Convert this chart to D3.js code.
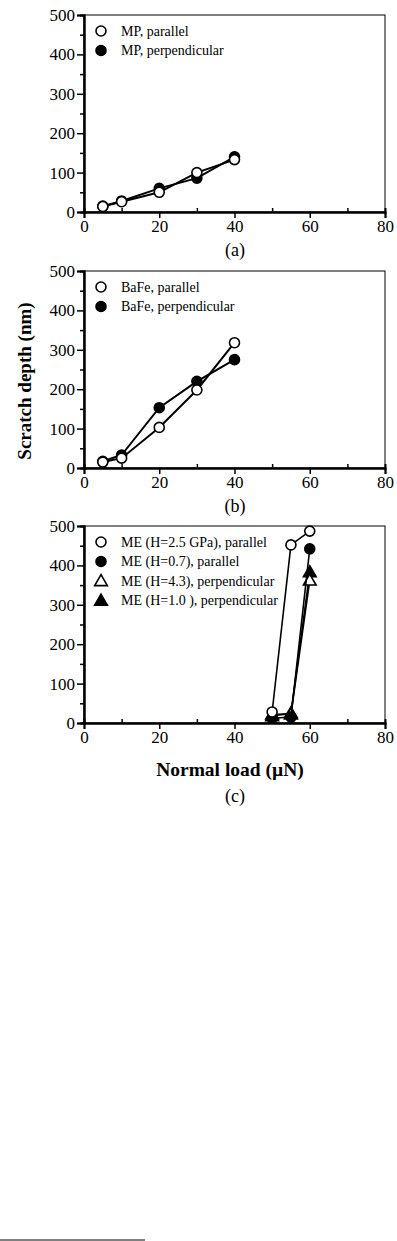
<!DOCTYPE html>
<html>
<head>
<meta charset="utf-8">
<script src="https://cdn.jsdelivr.net/npm/d3@7"></script>
<style>
  body { margin: 0; background: #fff; }
  text { font-family: "Liberation Serif", "Times New Roman", serif; fill: #000; }
</style>
</head>
<body>
<div id="canvas"></div>
<script>
"use strict"

/* Data */
let xTicks = [0, 20, 40, 60, 80];
let xMinorTicks = [10, 30, 50, 70];
let yTicks = [0, 100, 200, 300, 400, 500];
let yMinorTicks = [50, 150, 250, 350, 450];

let mpLoads = [5, 10, 20, 30, 40];
let mpParallel = [14, 26, 50, 100, 133];
let mpPerpendicular = [15, 28, 60, 86, 140];

let bafeLoads = [5, 10, 20, 30, 40];
let bafeParallel = [15, 25, 103, 198, 318];
let bafePerpendicular = [17, 33, 153, 220, 275];

let meLoads = [50, 55, 60];
let meH25Parallel = [28, 452, 487];
let meH07Parallel = [12, 15, 442];
let meH43Perpendicular = [22, 22, 362];
let meH10Perpendicular = [18, 25, 383];

/* Drawing configuration */
let svgWidth = 397;
let svgHeight = 1241;
let plotLeft = 84;
let plotRight = 385;
let plotHeight = 197;
let panelTops = [15, 271, 526];

let svg = d3.select("#canvas")
    .append("svg")
    .attr("width", svgWidth)
    .attr("height", svgHeight);

svg.append("rect")
    .attr("width", svgWidth)
    .attr("height", svgHeight)
    .attr("fill", "#fff");

let xScale = d3.scaleLinear()
    .domain([0, 80])
    .range([plotLeft, plotRight]);

let panels = [
    {
        label: "(a)",
        series: [
            { name: "MP, perpendicular", x: mpLoads, y: mpPerpendicular, shape: "circle", fill: "#000", legendRow: 1 },
            { name: "MP, parallel", x: mpLoads, y: mpParallel, shape: "circle", fill: "#fff", legendRow: 0 }
        ],
        lineWidth: 2
    },
    {
        label: "(b)",
        series: [
            { name: "BaFe, perpendicular", x: bafeLoads, y: bafePerpendicular, shape: "circle", fill: "#000", legendRow: 1 },
            { name: "BaFe, parallel", x: bafeLoads, y: bafeParallel, shape: "circle", fill: "#fff", legendRow: 0 }
        ],
        lineWidth: 2
    },
    {
        label: "(c)",
        series: [
            { name: "ME (H=1.0 ), perpendicular", x: meLoads, y: meH10Perpendicular, shape: "triangle", fill: "#000", legendRow: 3 },
            { name: "ME (H=4.3), perpendicular", x: meLoads, y: meH43Perpendicular, shape: "triangle", fill: "#fff", legendRow: 2 },
            { name: "ME (H=0.7), parallel", x: meLoads, y: meH07Parallel, shape: "circle", fill: "#000", legendRow: 1 },
            { name: "ME (H=2.5 GPa), parallel", x: meLoads, y: meH25Parallel, shape: "circle", fill: "#fff", legendRow: 0 }
        ],
        lineWidth: 1.6
    }
];

function drawMarker(g, shape, fill, cx, cy) {
    if (shape === "circle") {
        g.append("circle")
            .attr("cx", cx)
            .attr("cy", cy)
            .attr("r", 5)
            .attr("fill", fill)
            .attr("stroke", "#000")
            .attr("stroke-width", 1.6);
    } else {
        g.append("path")
            .attr("d", d3.symbol(d3.symbolTriangle, 70)())
            .attr("transform", "translate(" + cx + "," + (cy + 1) + ")")
            .attr("fill", fill)
            .attr("stroke", "#000")
            .attr("stroke-width", 1.6);
    }
}

panels.forEach(function (panel, i) {
    let top = panelTops[i];
    let bottom = top + plotHeight;
    let g = svg.append("g");

    let yScale = d3.scaleLinear()
        .domain([0, 500])
        .range([bottom, top]);

    /* frame: thin top and right */
    g.append("rect")
        .attr("x", plotLeft)
        .attr("y", top)
        .attr("width", plotRight - plotLeft)
        .attr("height", plotHeight)
        .attr("fill", "none")
        .attr("stroke", "#000")
        .attr("stroke-width", 1);

    /* x axis */
    let xAxis = g.append("g")
        .attr("transform", "translate(0," + bottom + ")")
        .call(d3.axisBottom(xScale).tickValues(xTicks).tickSize(6).tickPadding(2).tickFormat(d3.format("d")));
    let xMinor = g.append("g")
        .attr("transform", "translate(0," + bottom + ")")
        .call(d3.axisTop(xScale).tickValues(xMinorTicks).tickSize(4).tickFormat(""));

    /* y axis */
    let yAxis = g.append("g")
        .attr("transform", "translate(" + plotLeft + ",0)")
        .call(d3.axisLeft(yScale).tickValues(yTicks).tickSize(7).tickPadding(2).tickFormat(d3.format("d")));
    let yMinor = g.append("g")
        .attr("transform", "translate(" + plotLeft + ",0)")
        .call(d3.axisLeft(yScale).tickValues(yMinorTicks).tickSize(4).tickFormat(""));

    [xAxis, xMinor, yAxis, yMinor].forEach(function (ax) {
        ax.select(".domain").attr("stroke-width", 2).attr("stroke", "#000");
        ax.selectAll(".tick line").attr("stroke", "#000").attr("stroke-width", 1.5);
        ax.selectAll(".tick text")
            .attr("font-size", 17)
            .attr("fill", "#000");
    });

    /* series */
    let line = d3.line()
        .x(function (d) { return xScale(d[0]); })
        .y(function (d) { return yScale(d[1]); });

    panel.series.forEach(function (s) {
        let pts = s.x.map(function (v, k) { return [v, s.y[k]]; });
        g.append("path")
            .attr("d", line(pts))
            .attr("fill", "none")
            .attr("stroke", "#000")
            .attr("stroke-width", panel.lineWidth);
        pts.forEach(function (p) {
            drawMarker(g, s.shape, s.fill, xScale(p[0]), yScale(p[1]));
        });
    });

    /* legend */
    panel.series.forEach(function (s) {
        let ly = top + 16 + s.legendRow * 19.5;
        drawMarker(g, s.shape, s.fill, plotLeft + 17, ly);
        g.append("text")
            .attr("x", plotLeft + 37)
            .attr("y", ly)
            .attr("dominant-baseline", "central")
            .attr("font-size", 14)
            .text(s.name);
    });

    /* panel label */
    let labelY = i < 2 ? bottom + 44 : bottom + 79;
    g.append("text")
        .attr("x", 235)
        .attr("y", labelY)
        .attr("text-anchor", "middle")
        .attr("font-size", 18)
        .text(panel.label);
});

/* axis titles */
svg.append("text")
    .attr("transform", "translate(31," + 381 + ") rotate(-90)")
    .attr("text-anchor", "middle")
    .attr("font-size", 19)
    .attr("font-weight", "bold")
    .text("Scratch depth (nm)");

svg.append("text")
    .attr("x", 230)
    .attr("y", 776)
    .attr("text-anchor", "middle")
    .attr("font-size", 19.5)
    .attr("font-weight", "bold")
    .text("Normal load (\u00B5N)");

/* footnote rule */
svg.append("line")
    .attr("x1", 0)
    .attr("x2", 145)
    .attr("y1", 1240)
    .attr("y2", 1240)
    .attr("stroke", "#000")
    .attr("stroke-width", 1);
</script>
</body>
</html>
